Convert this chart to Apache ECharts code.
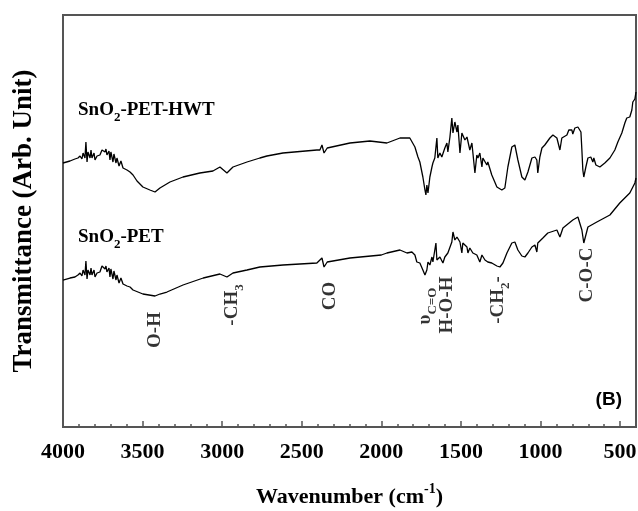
<!DOCTYPE html>
<html><head><meta charset="utf-8">
<script src="https://cdn.jsdelivr.net/npm/echarts@6/dist/echarts.min.js"></script>
<style>html,body{margin:0;padding:0;background:#fff}#c{width:638px;height:511px}</style>
</head><body><div id="c"></div>
<script>
// ---- data ----
const xTicks = [4000, 3500, 3000, 2500, 2000, 1500, 1000, 500];

const hwtWavenumber = [4000,3956,3925,3906,3893,3881,3874,3862,3856,3849,3843,3830,3824,3818,3805,3799,3786,3780,3768,3755,3749,3736,3730,3724,3711,3705,3699,3686,3680,3667,3661,3648,3636,3623,3611,3598,3579,3560,3535,3498,3454,3422,3391,3328,3246,3140,3058,3014,2970,2964,2945,2932,2844,2763,2719,2618,2405,2386,2373,2360,2340,2197,2072,1965,1883,1821,1789,1770,1758,1739,1726,1720,1714,1707,1695,1682,1676,1664,1651,1645,1632,1620,1601,1588,1582,1569,1557,1550,1538,1525,1519,1506,1494,1475,1462,1444,1431,1412,1400,1393,1381,1368,1362,1337,1331,1306,1274,1243,1224,1205,1180,1161,1142,1117,1098,1079,1054,1035,1023,1017,1004,991,973,941,922,897,878,866,834,822,803,797,784,765,746,740,734,728,715,702,684,671,665,652,627,596,564,533,514,489,470,458,439,426,420,407,400];
const hwtTransmittance = [274,276,278,279,281,278,284,279,295,275,285,279,287,279,284,277,281,279,282,287,289,285,288,282,286,277,285,275,283,274,279,271,276,269,270,267,265,262,256,250,247,245,249,255,260,264,266,270,264,262,268,270,275,279,281,284,287,287,292,284,289,294,296,294,299,299,290,280,275,260,247,242,252,244,260,270,274,279,299,279,284,280,289,294,285,300,319,304,315,305,312,284,304,297,300,287,294,264,282,279,284,270,279,272,275,262,250,247,249,270,290,292,277,260,257,265,279,280,277,264,280,289,292,299,302,299,287,299,302,307,307,303,309,310,305,287,267,260,270,279,280,275,279,272,270,274,279,287,295,304,314,319,320,327,335,338,345];

const petWavenumber = [4000,3956,3925,3906,3893,3881,3874,3862,3856,3849,3843,3830,3824,3818,3805,3799,3786,3780,3768,3755,3749,3736,3730,3724,3711,3705,3699,3686,3680,3667,3661,3648,3636,3623,3611,3598,3579,3560,3498,3422,3391,3347,3246,3119,3014,2970,2951,2932,2844,2763,2618,2405,2373,2360,2340,2197,2000,1965,1883,1839,1808,1789,1777,1758,1739,1726,1714,1707,1695,1682,1676,1657,1651,1632,1613,1601,1582,1557,1550,1538,1525,1506,1494,1488,1462,1456,1444,1425,1400,1381,1368,1349,1331,1306,1274,1255,1236,1211,1180,1161,1142,1117,1098,1079,1054,1035,1023,1017,985,954,897,878,859,797,765,740,728,702,646,564,502,439,407,400];
const petTransmittance = [157,159,160,162,164,161,167,162,176,158,167,162,169,162,167,160,164,162,165,171,173,168,171,165,169,160,168,158,166,157,162,154,159,153,154,151,150,147,143,141,143,145,152,159,163,160,162,164,167,170,172,174,179,170,175,179,182,184,187,184,185,182,175,174,167,162,167,175,172,180,175,194,177,180,174,180,184,195,205,197,200,195,184,194,190,184,189,184,182,175,182,177,175,174,171,170,174,184,194,195,187,181,180,184,190,192,185,194,199,204,207,200,209,217,220,207,194,210,215,222,234,244,254,259];

const seriesNames = ['{b|SnO}{s|2}{b|-PET-HWT}', '{b|SnO}{s|2}{b|-PET}'];
const bandLabels = ['{b|O-H}', '{b|-CH}{s|3}', '{b|CO}', '{b|υ}{s|C=O}', '{b|H-O-H}', '{b|-CH}{s|2}{b|-}', '{b|C-O-C}'];
const bandWavenumber = [3422, 2939, 2323, 1726, 1588, 1268, 709];
const bandLabelLevel = [107, 132, 141, 131, 132, 137, 162];

// ---- chart ----
const serif = 'Liberation Serif';
const richSub = {
  b: {fontFamily: serif, fontWeight: 'bold', fontSize: 19, lineHeight: 28, color: '#000', verticalAlign: 'middle'},
  s: {fontFamily: serif, fontWeight: 'bold', fontSize: 13, lineHeight: 13, color: '#000', verticalAlign: 'bottom'}
};
const minorTicks = [];
for (let v = 500; v < 4000; v += 100) if (v % 500 !== 0) minorTicks.push(v);

const chart = echarts.init(document.getElementById('c'), null, {renderer: 'canvas'});
const zip = (a, b) => a.map((v, i) => [v, b[i]]);

chart.setOption({
  animation: false,
  backgroundColor: '#fff',
  grid: {left: 63, right: 2, top: 15, bottom: 84, show: true, borderColor: '#555', borderWidth: 2,
         containLabel: false, outerBoundsMode: 'none'},
  xAxis: [{
    type: 'value', min: 400, max: 4000, inverse: true, position: 'bottom',
    name: '{n|Wavenumber (cm}{p|-1}{n|)}', nameLocation: 'middle', nameGap: 55,
    nameTextStyle: {rich: {
      n: {fontFamily: serif, fontWeight: 'bold', fontSize: 22, lineHeight: 30, color: '#000', verticalAlign: 'middle'},
      p: {fontFamily: serif, fontWeight: 'bold', fontSize: 14, lineHeight: 14, color: '#000', verticalAlign: 'top'}
    }},
    axisLine: {show: true, lineStyle: {color: '#555', width: 2}},
    axisTick: {show: true, inside: true, length: 6, customValues: xTicks, lineStyle: {color: '#555', width: 1.5}},
    axisLabel: {customValues: xTicks, margin: 14, formatter: v => String(v),
                fontFamily: serif, fontWeight: 'bold', fontSize: 22, color: '#000'},
    splitLine: {show: false}
  }, {
    type: 'value', min: 400, max: 4000, inverse: true, position: 'bottom', gridIndex: 0,
    axisLine: {show: false},
    axisTick: {show: true, inside: true, length: 3, customValues: minorTicks, lineStyle: {color: '#555', width: 1.5}},
    axisLabel: {show: false},
    splitLine: {show: false}
  }],
  yAxis: {
    type: 'value', min: 10, max: 422,
    name: 'Transmittance (Arb. Unit)', nameLocation: 'middle', nameGap: 25,
    nameTextStyle: {fontFamily: serif, fontWeight: 'bold', fontSize: 27, lineHeight: 27, color: '#000'},
    axisLine: {show: true, lineStyle: {color: '#555', width: 2}},
    axisTick: {show: false}, axisLabel: {show: false}, splitLine: {show: false}
  },
  series: [{
    type: 'line', name: 'SnO2-PET-HWT', data: zip(hwtWavenumber, hwtTransmittance),
    showSymbol: false, symbol: 'none', lineStyle: {color: '#000', width: 1.3}, silent: true
  }, {
    type: 'line', name: 'SnO2-PET', data: zip(petWavenumber, petTransmittance),
    showSymbol: false, symbol: 'none', lineStyle: {color: '#000', width: 1.3}, silent: true
  }, {
    type: 'scatter', data: zip(bandWavenumber, bandLabelLevel), symbolSize: 1,
    itemStyle: {color: 'rgba(0,0,0,0)'}, silent: true, z: 5,
    label: {show: true, position: 'inside', rotate: 90, align: 'center', verticalAlign: 'middle',
      formatter: p => bandLabels[p.dataIndex], rich: richSub}
  }],
  graphic: [
    {type: 'text', x: 78, y: 110, style: {text: seriesNames[0], rich: richSub, verticalAlign: 'middle'}},
    {type: 'text', x: 78, y: 237, style: {text: seriesNames[1], rich: richSub, verticalAlign: 'middle'}},
    {type: 'text', x: 622, y: 400, style: {text: '(B)', fontFamily: 'Liberation Sans', fontWeight: 'bold', fontSize: 19, fill: '#000', align: 'right', verticalAlign: 'middle'}}
  ]
});
</script></body></html>
